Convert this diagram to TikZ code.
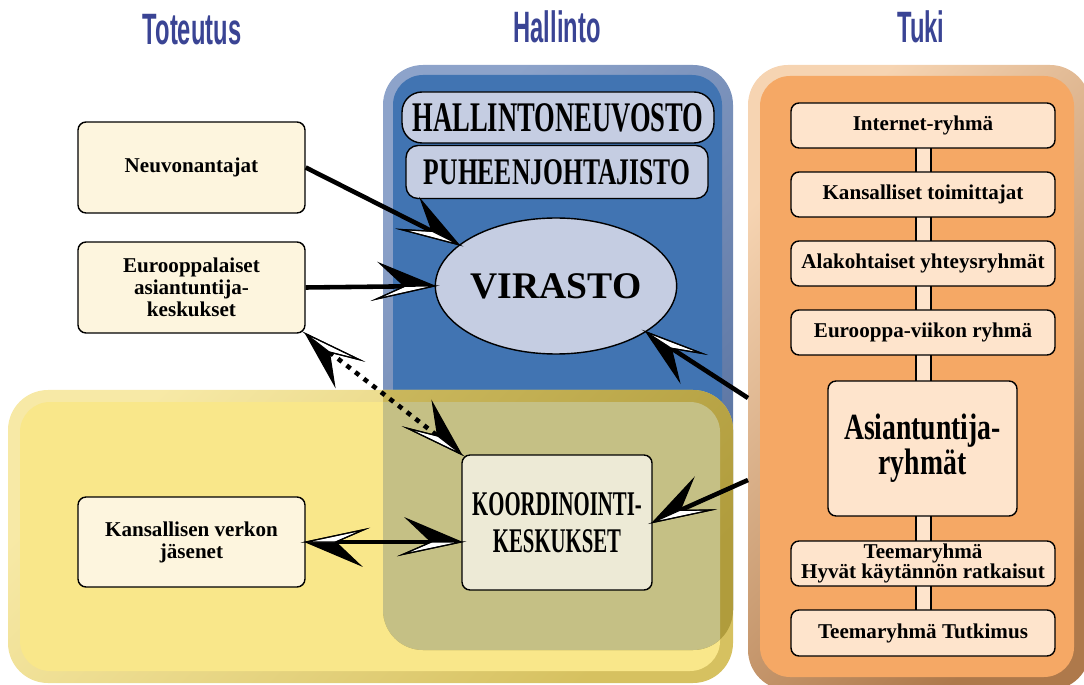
\documentclass[tikz,border=0pt]{standalone}
\usepackage{fontspec}
\setmainfont{Liberation Serif}
\newfontfamily\headfont[FakeStretch=0.54]{Liberation Sans}
\newfontfamily\condA[FakeStretch=0.63]{Liberation Serif}
\newfontfamily\condB[FakeStretch=0.68]{Liberation Serif}
\newfontfamily\condC[FakeStretch=0.6]{Liberation Serif}
\newfontfamily\condD[FakeStretch=0.75]{Liberation Serif}
\usetikzlibrary{calc,shapes.geometric}
\definecolor{headblue}{HTML}{3A4494}
\definecolor{blueA}{HTML}{8DA3CA}
\definecolor{blueB}{HTML}{56709E}
\definecolor{bluein}{HTML}{4174B2}
\definecolor{yelA}{HTML}{F7E9A6}
\definecolor{yelB}{HTML}{D6C160}
\definecolor{yelin}{HTML}{F9E78A}
\definecolor{goldA}{HTML}{D6C46C}
\definecolor{goldB}{HTML}{B09C3C}
\definecolor{olivein}{HTML}{C5C085}
\definecolor{orA}{HTML}{F6D4B2}
\definecolor{orB}{HTML}{AE794B}
\definecolor{orin}{HTML}{F5A865}
\definecolor{boxL}{HTML}{FDF5DE}
\definecolor{boxR}{HTML}{FEE4CC}
\definecolor{boxK}{HTML}{EDEAD6}
\definecolor{boxH}{HTML}{C5CDE2}
\newcommand\dhead[4]{%
  \path (#2) coordinate (dT)
        ($(#2)!0.6cm!(#1)$) coordinate (dN)
        ($(#2)!0.66cm!#3:(#1)$) coordinate (dM)
        ($(#2)!1.2cm!#3:(#1)$) coordinate (dW)
        ($(#2)!1.18cm!#4:(#1)$) coordinate (dB);
  \fill[black] (dT) -- (dB) -- (dN) -- cycle;
  \filldraw[fill=white,draw=black,line width=0.6pt] (dT) -- (dN) -- (dW) -- cycle;
  \draw[line width=0.7pt,line join=miter] (dT) -- (dB) -- (dN) -- (dW) -- cycle;
}
\newcommand\darrow[4]{%
  \draw[shaft] (#1) -- ($(#2)!0.6cm!(#1)$);
  \dhead{#1}{#2}{#3}{#4}
}
\begin{document}
\begin{tikzpicture}[x=0.02cm,y=-0.02cm,
  shaft/.style={line width=2.6pt,black},
  head/.style={font=\headfont\bfseries\fontsize{25}{30}\selectfont,text=headblue,anchor=base,inner sep=0pt},
  lbox/.style={draw=black,line width=0.8pt,fill=boxL,rounded corners=0.16cm,minimum width=4.54cm,minimum height=1.82cm,inner sep=0pt,align=center,font=\bfseries\fontsize{12}{12.5}\selectfont},
  rbox/.style={draw=black,line width=0.8pt,fill=boxR,rounded corners=0.16cm,minimum width=5.28cm,minimum height=0.9cm,inner sep=0pt,align=center,font=\bfseries\fontsize{12}{11.3}\selectfont},
  hbox/.style={draw=black,line width=0.8pt,fill=boxH,inner sep=0pt,align=center}
]
\useasboundingbox (0,0) rectangle (1084,685);
% panels
\shade[top color=blueA,bottom color=blueB,shading angle=45,rounded corners=0.8cm] (383,65) rectangle (733,650);
\fill[bluein,rounded corners=0.6cm] (393,75) rectangle (722,640);
\shade[top color=yelA,bottom color=yelB,shading angle=45,rounded corners=0.8cm] (8,390) rectangle (733,683);
\fill[yelin,rounded corners=0.6cm] (20,402) rectangle (720,671);
\begin{scope}
  \clip[rounded corners=0.8cm] (383,65) rectangle (733,650);
  \shade[top color=goldA,bottom color=goldB,shading angle=45,rounded corners=0.8cm] (8,390) rectangle (733,683);
  \fill[olivein,rounded corners=0.6cm] (20,402) rectangle (720,671);
\end{scope}
\shade[top color=orA,bottom color=orB,shading angle=45,rounded corners=0.8cm] (748,65) rectangle (1090,690);
\fill[orin,rounded corners=0.6cm] (760,76) rectangle (1074,677);
% headers
\node[head] (hT) at (192,45) {Toteutus};
\node[head] (hH) at (557,43) {Hallinto};
\node[head] (hK) at (921,43) {Tuki};
% Hallinto
\node[hbox,rounded corners=0.4cm,minimum width=6.24cm,minimum height=1.02cm,font=\condA\bfseries\fontsize{24}{28}\selectfont] (hall) at (558,117.5) {HALLINTONEUVOSTO};
\node[hbox,rounded corners=0.24cm,minimum width=6.04cm,minimum height=1.06cm,font=\condB\bfseries\fontsize{21.4}{25}\selectfont] (puh) at (557,172) {PUHEENJOHTAJISTO};
\node[hbox,ellipse,minimum width=3.76cm,minimum height=2.72cm,font=\bfseries\fontsize{21.4}{25}\selectfont] (virasto) at (556,286) {VIRASTO};
% Toteutus
\node[lbox] (neuvo) at (191.5,167.5) {Neuvonantajat};
\node[lbox] (eur) at (191.5,287.5) {Eurooppalaiset\\asiantuntija-\\keskukset};
\node[lbox,minimum height=1.8cm] (kans) at (191.5,542) {Kansallisen verkon\\jäsenet};
\node[draw=black,line width=0.8pt,fill=boxK,rounded corners=0.16cm,minimum width=3.8cm,minimum height=2.7cm,inner sep=0pt,align=center,font=\condC\bfseries\fontsize{19.7}{21}\selectfont] (koord) at (557,522.5) {KOORDINOINTI-\\KESKUKSET};
% Tuki
\filldraw[fill=boxR,draw=black,line width=0.8pt] (916,125) rectangle (931,633);
\node[rbox] (r1) at (923,125.5) {Internet-ryhmä};
\node[rbox] (r2) at (923,194.5) {Kansalliset toimittajat};
\node[rbox] (r3) at (923,263.5) {Alakohtaiset yhteysryhmät};
\node[rbox] (r4) at (923,332.5) {Eurooppa-viikon ryhmä};
\node[rbox,minimum width=3.78cm,minimum height=2.7cm,font=\condD\bfseries\fontsize{21}{18.7}\selectfont] (asi) at (922.5,448.5) {Asiantuntija-\\ryhmät};
\node[rbox] (r6) at (923,563.5) {Teemaryhmä\\Hyvät käytännön ratkaisut};
\node[rbox,minimum height=0.92cm] (r7) at (923,633) {Teemaryhmä Tutkimus};
% connectors
\coordinate (t1) at (748,398);
\coordinate (t2) at (748,480);
\coordinate (kw) at (koord.west |- kans.east);
\darrow{neuvo.east}{virasto.157}{12}{-23}
\darrow{eur.east}{virasto.west}{12}{-23}
\darrow{t1}{virasto.333}{12}{-23}
\darrow{t2}{koord.east}{-12}{23}
\draw[line width=2.6pt,dash pattern=on 2.8pt off 3.4pt] ($(eur.south east)!0.6cm!(koord.north west)$) -- ($(koord.north west)!0.6cm!(eur.south east)$);
\dhead{koord.north west}{eur.south east}{12}{-23}
\dhead{eur.south east}{koord.north west}{12}{-23}
\draw[shaft] ($(kans.east)!0.6cm!(kw)$) -- ($(kw)!0.6cm!(kans.east)$);
\dhead{kw}{kans.east}{12}{-23}
\dhead{kans.east}{kw}{12}{-23}
\end{tikzpicture}
\end{document}
